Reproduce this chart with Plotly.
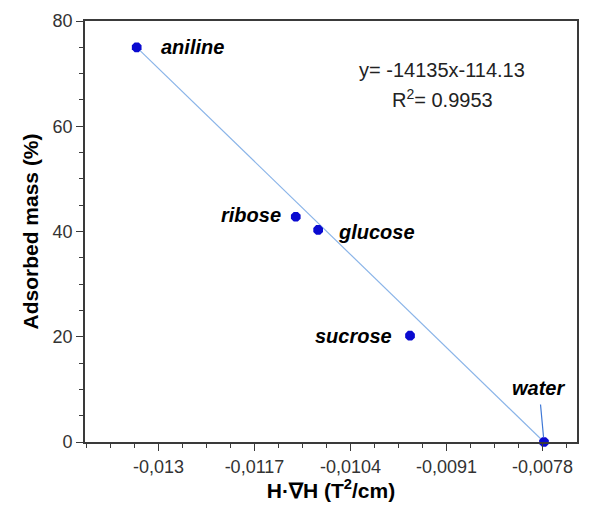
import plotly.graph_objects as go

# Data
compounds = ["aniline", "ribose", "glucose", "sucrose", "water"]
hgradh = [-0.013295, -0.011141, -0.010838, -0.009594, -0.00778]
adsorbed = [75.0, 42.8, 40.3, 20.2, 0.0]

xtick_vals = [-0.013, -0.0117, -0.0104, -0.0091, -0.0078]
xtick_text = ["-0,013", "-0,0117", "-0,0104", "-0,0091", "-0,0078"]
ytick_vals = [0, 20, 40, 60, 80]

eq_text = "y= -14135x-114.13"
r2_text = "R<sup>2</sup>= 0.9953"

FONT = "Liberation Sans"
AXC = "#3a3a3a"

fig = go.Figure()

# fit line drawn between extreme data points
fig.add_trace(go.Scatter(
    x=[hgradh[0], hgradh[-1]], y=[adsorbed[0], adsorbed[-1]],
    mode="lines", line=dict(color="#8ab4e8", width=1.2),
    hoverinfo="skip", showlegend=False, cliponaxis=False))

fig.add_trace(go.Scatter(
    x=hgradh, y=adsorbed, mode="markers",
    marker=dict(color="#0a0ad0", size=10.5, symbol="octagon"),
    showlegend=False, cliponaxis=False))

label_font = dict(family=FONT, size=20, color="black")
offsets = {
    "aniline": dict(xanchor="left", xshift=22, yshift=0),
    "ribose": dict(xanchor="right", xshift=-13, yshift=2),
    "glucose": dict(xanchor="left", xshift=18, yshift=-2),
    "sucrose": dict(xanchor="right", xshift=-16, yshift=0),
}
for name, xv, yv in zip(compounds, hgradh, adsorbed):
    if name == "water":
        fig.add_annotation(
            x=xv, y=yv, text="<b><i>water</i></b>", font=label_font,
            showarrow=True, arrowhead=0, arrowwidth=1.2, arrowcolor="#3f78d6",
            ax=-5, ay=-54, standoff=5, startstandoff=4)
    else:
        o = offsets[name]
        fig.add_annotation(
            x=xv, y=yv, text=f"<b><i>{name}</i></b>", font=label_font,
            showarrow=False, xanchor=o["xanchor"], yanchor="middle",
            xshift=o["xshift"], yshift=o["yshift"])

eq_font = dict(family=FONT, size=20, color="#222222")
fig.add_annotation(xref="paper", yref="paper", x=0.725, y=0.883,
                   text=eq_text, showarrow=False, font=eq_font,
                   xanchor="center", yanchor="middle")
fig.add_annotation(xref="paper", yref="paper", x=0.727, y=0.815,
                   text=r2_text, showarrow=False, font=eq_font,
                   xanchor="center", yanchor="middle")

fig.update_layout(
    width=590, height=511,
    margin=dict(l=77, r=21, t=13, b=77, pad=0),
    paper_bgcolor="white", plot_bgcolor="white",
    xaxis=dict(
        range=[-0.013995, -0.007333], automargin=False,
        tickvals=xtick_vals, ticktext=xtick_text,
        ticks="outside", ticklen=7, tickwidth=1.3, tickcolor=AXC,
        minor=dict(dtick=0.000325, tick0=-0.013, ticks="outside",
                   ticklen=4, tickwidth=1.3, tickcolor=AXC, showgrid=False),
        showline=True, linecolor=AXC, linewidth=1.8, mirror=True,
        showgrid=False, zeroline=False,
        tickfont=dict(family=FONT, size=18, color="#333333"),
        title=dict(text="<b>H·∇H (T<sup>2</sup>/cm)</b>",
                   font=dict(family=FONT, size=21, color="black"),
                   standoff=6),
    ),
    yaxis=dict(
        range=[0, 80], automargin=False,
        tickvals=ytick_vals,
        ticks="outside", ticklen=7, tickwidth=1.3, tickcolor=AXC,
        minor=dict(dtick=5, ticks="outside", ticklen=4, tickwidth=1.3,
                   tickcolor=AXC, showgrid=False),
        showline=True, linecolor=AXC, linewidth=1.8, mirror=True,
        showgrid=False, zeroline=False,
        tickfont=dict(family=FONT, size=18, color="#333333"),
        title=dict(text="<b>Adsorbed mass (%)</b>",
                   font=dict(family=FONT, size=21, color="black"),
                   standoff=8),
    ),
)

fig.write_html("out.html")
